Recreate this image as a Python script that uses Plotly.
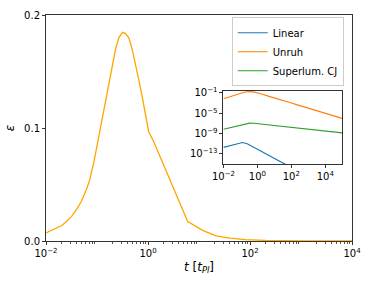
import plotly.graph_objects as go

# ---- data ----
t_unruh = [0.01, 0.0204, 0.0251, 0.0318, 0.0398, 0.0495, 0.0631, 0.0716, 0.0871, 0.104,
           0.126, 0.162, 0.200, 0.234, 0.269, 0.316, 0.363, 0.423, 0.490, 0.570,
           0.661, 0.767, 0.891, 1.03, 1.29, 6.0, 11.8, 21.5, 40, 81, 200, 500, 1e3, 1e4, 1e5]
eps_unruh = [0.0072, 0.0137, 0.0172, 0.0218, 0.0280, 0.0352, 0.0465, 0.0538, 0.0700, 0.0881,
             0.110, 0.1367, 0.158, 0.171, 0.180, 0.1847, 0.1835, 0.1796, 0.1695, 0.1567,
             0.1425, 0.1281, 0.1125, 0.0967, 0.0881, 0.0172, 0.0094, 0.0046, 0.0025, 0.0013,
             0.0005, 0.0002, 1e-4, 1e-5, 1e-6]

t_linear = [0.01, 0.03, 0.07, 0.1, 0.132, 0.251, 0.501, 1, 3.16, 10, 42.7, 100, 1e3, 1e4, 1e5]
eps_linear = [1.9e-12, 5.0e-12, 1.2e-11, 1.58e-11, 1.7e-11, 1.0e-11, 2.8e-12, 7.9e-13,
              1.0e-13, 1.26e-14, 9.1e-16, 2.0e-16, 3.2e-18, 5.0e-20, 7.9e-22]

t_cj = [0.01, 0.03, 0.1, 0.2, 0.35, 0.6, 1, 10, 100, 1e3, 1e4, 1e5]
eps_cj = [7.1e-9, 1.6e-8, 4.5e-8, 8.9e-8, 1.15e-7, 1.07e-7, 8.9e-8, 4.0e-8, 1.6e-8,
          7.1e-9, 3.2e-9, 1.4e-9]

main_xticks = [1e-2, 1e0, 1e2, 1e4]
main_xticktext = ["10<sup>−2</sup>", "10<sup>0</sup>", "10<sup>2</sup>", "10<sup>4</sup>"]
main_yticks = [0.0, 0.1, 0.2]
main_yticktext = ["0.0", "0.1", "0.2"]
inset_xticks = [1e-2, 1e0, 1e2, 1e4]
inset_xticktext = main_xticktext
inset_yticks = [1e-1, 1e-5, 1e-9, 1e-13]
inset_yticktext = ["10<sup>−1</sup>", "10<sup>−5</sup>", "10<sup>−9</sup>", "10<sup>−13</sup>"]

C_BLUE = "#1f77b4"
C_ORANGE = "#ff7f0e"
C_GREEN = "#2ca02c"
C_MAIN = "#ffa500"

FONT = "DejaVu Sans"

fig = go.Figure()

fig.add_trace(go.Scatter(x=t_unruh, y=eps_unruh, mode="lines", line=dict(color=C_MAIN, width=1.3),
                         xaxis="x", yaxis="y", showlegend=False))

# inset
fig.add_trace(go.Scatter(x=t_linear, y=eps_linear, mode="lines", name="Linear",
                         line=dict(color=C_BLUE, width=1.2), xaxis="x2", yaxis="y2"))
fig.add_trace(go.Scatter(x=t_unruh, y=eps_unruh, mode="lines", name="Unruh",
                         line=dict(color=C_ORANGE, width=1.2), xaxis="x2", yaxis="y2"))
fig.add_trace(go.Scatter(x=t_cj, y=eps_cj, mode="lines", name="Superlum. CJ",
                         line=dict(color=C_GREEN, width=1.2), xaxis="x2", yaxis="y2"))

minor_vals = [m * 10.0 ** k for k in range(-2, 4) for m in range(2, 10)]

axis_common = dict(showline=True, linecolor="#333333", linewidth=1, mirror=True,
                   showgrid=False, zeroline=False, ticks="outside", ticklen=3,
                   tickcolor="#333333", tickfont=dict(family=FONT, size=10, color="black"))

fig.update_layout(
    width=371, height=281,
    margin=dict(l=44, r=16, t=9.5, b=38.3),
    paper_bgcolor="white", plot_bgcolor="white",
    font=dict(family=FONT, size=10, color="black"),
    xaxis=dict(type="log", range=[-2, 4], domain=[0, 1], anchor="y",
               tickvals=main_xticks, ticktext=main_xticktext,
               minor=dict(tickvals=minor_vals, ticks="outside", ticklen=1.6, tickcolor="#555555"),
               title=dict(text="<i>t</i> [<i>t</i><sub><i>Pl</i></sub>]",
                          font=dict(family=FONT, size=12), standoff=4),
               **axis_common),
    yaxis=dict(range=[0, 0.2], domain=[0, 1], anchor="x",
               tickvals=main_yticks, ticktext=main_yticktext,
               title=dict(text="<i>ε</i>", font=dict(family=FONT, size=12), standoff=6),
               **axis_common),
    xaxis2=dict(type="log", range=[-2, 5], domain=[0.580, 0.968], anchor="y2",
                tickvals=inset_xticks, ticktext=inset_xticktext, **axis_common),
    yaxis2=dict(type="log", range=[-15.03, -0.56], domain=[0.340, 0.665], anchor="x2",
                tickvals=inset_yticks, ticktext=inset_yticktext, **axis_common),
    legend=dict(x=0.607, y=0.99, xanchor="left", yanchor="top",
                bgcolor="rgba(255,255,255,0.8)", bordercolor="#cccccc", borderwidth=1,
                font=dict(family=FONT, size=10), itemwidth=30, tracegroupgap=0),
)

fig.write_html("out.html", config={"displayModeBar": False},
               post_script="document.body.style.margin='0';")
